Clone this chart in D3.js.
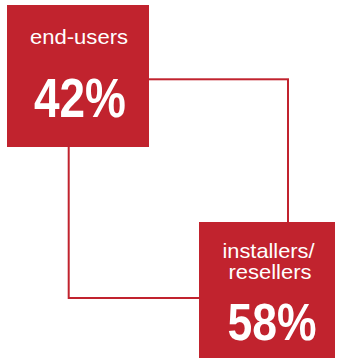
<!DOCTYPE html>
<html>
<head>
<meta charset="utf-8">
<script src="https://cdn.jsdelivr.net/npm/d3@7/dist/d3.min.js"></script>
<style>
  html, body { margin: 0; padding: 0; background: #fff; }
  svg { display: block; }
</style>
</head>
<body>
<svg id="chart" width="337" height="360"></svg>
<script>
// Share of buyers by channel
const categories = ["end-users", "installers/resellers"];
const labelLines = [["end-users"], ["installers/", "resellers"]];
const values = [42, 58];

const red = "#c1232e";
const svg = d3.select("#chart");

// Diagonal layout: each box sits on a point scale running top-left to bottom-right
const xPos = d3.scalePoint().domain(categories).range([7, 199]);
const yPos = d3.scalePoint().domain(categories).range([5, 222]);
const size = d3.scaleOrdinal().domain(categories).range([142, 136]);

// connector outline linking the two boxes, offset from their centres
const catA = categories[0], catB = categories[1];
const cx = d => xPos(d) + size(d) / 2;
const cy = d => yPos(d) + size(d) / 2;
const linkLeft = cx(catA) - 9.3, linkTop = cy(catA) + 3.3;
const linkRight = cx(catB) + 21, linkBottom = cy(catB) + 8;
svg.append("rect")
  .attr("x", linkLeft).attr("y", linkTop)
  .attr("width", linkRight - linkLeft).attr("height", linkBottom - linkTop)
  .attr("fill", "none")
  .attr("stroke", red)
  .attr("stroke-width", 2);

const g = svg.selectAll("g.box")
  .data(categories.map((c, i) => ({ c, i, v: values[i], lines: labelLines[i] })))
  .join("g")
  .attr("class", "box")
  .attr("transform", d => `translate(${xPos(d.c)},${yPos(d.c)})`);

g.append("rect")
  .attr("width", d => size(d.c))
  .attr("height", d => size(d.c))
  .attr("fill", red);

const font = "'Liberation Sans Narrow', 'Arial Narrow', 'Liberation Sans', sans-serif";

// category names
const nameSpec = [
  { x: [72], base: [39], size: 20, widths: [98] },
  { x: [69.5, 71], base: [36, 57], size: 21, widths: [92, 83] }
];
g.each(function(d) {
  const s = nameSpec[d.i];
  const sel = d3.select(this);
  d.lines.forEach((ln, k) => {
    sel.append("text")
      .attr("x", s.x[k])
      .attr("y", s.base[k])
      .attr("text-anchor", "middle")
      .attr("fill", "#fff")
      .attr("font-family", font)
      .attr("font-weight", 300)
      .attr("font-size", s.size)
      .attr("textLength", s.widths[k])
      .attr("lengthAdjust", "spacingAndGlyphs")
      .text(ln);
  });
});

// percentage values
const valSpec = [
  { x: 73, base: 112, size: 56, width: 92 },
  { x: 73, base: 118, size: 52, width: 89 }
];
g.append("text")
  .attr("x", d => valSpec[d.i].x)
  .attr("y", d => valSpec[d.i].base)
  .attr("text-anchor", "middle")
  .attr("fill", "#fff")
  .attr("font-family", font)
  .attr("font-weight", 700)
  .attr("font-size", d => valSpec[d.i].size)
  .attr("textLength", d => valSpec[d.i].width)
  .attr("lengthAdjust", "spacingAndGlyphs")
  .text(d => d3.format("d")(d.v) + "%");
</script>
</body>
</html>
